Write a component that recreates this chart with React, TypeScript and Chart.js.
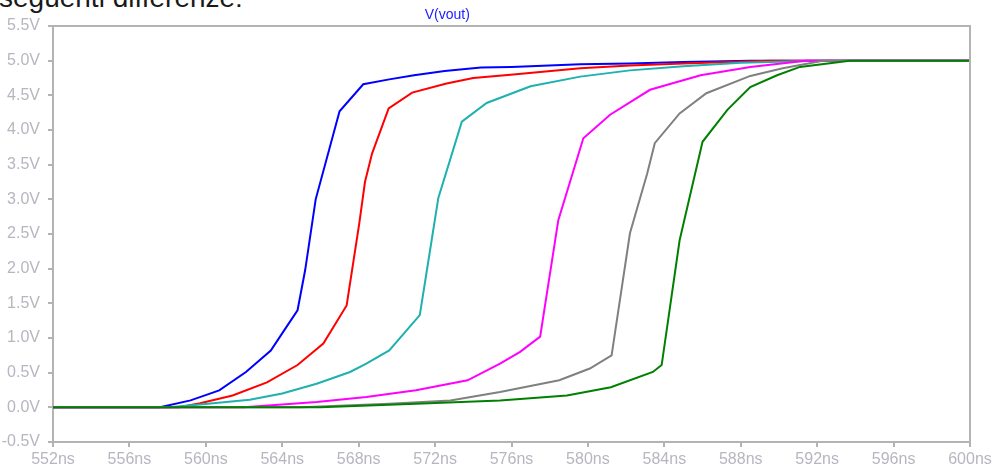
import React, { useEffect, useRef } from "react";
import { Chart, registerables } from "chart.js";

Chart.register(...registerables);

// Transient of V(vout) for six runs (time in ns, voltage in V)
const run1Time = [552, 557.6, 559.2, 560.7, 562.1, 563.4, 564.1, 564.8, 565.2, 565.75, 567.0, 568.24, 569.6, 570.9, 572.5, 574.4, 576.0, 579.6, 582.2, 585.0, 588.5, 600];
const run1Volt = [0, 0, 0.1, 0.245, 0.51, 0.82, 1.11, 1.4, 1.98, 3.0, 4.27, 4.66, 4.73, 4.79, 4.85, 4.9, 4.91, 4.95, 4.96, 4.98, 5.0, 5.0];

const run2Time = [552, 558.6, 559.7, 561.4, 563.2, 564.8, 566.15, 567.37, 568.03, 568.33, 568.7, 569.57, 570.8, 572.6, 574.0, 576.1, 579.6, 582.2, 585.0, 589.5, 600];
const run2Volt = [0, 0, 0.06, 0.17, 0.36, 0.61, 0.92, 1.47, 2.65, 3.25, 3.66, 4.31, 4.54, 4.67, 4.75, 4.8, 4.89, 4.93, 4.96, 5.0, 5.0];

const run3Time = [552, 558.1, 559.7, 562.3, 564.0, 565.8, 567.55, 568.4, 569.6, 571.2, 571.82, 572.17, 573.4, 574.7, 577.0, 579.6, 582.2, 585.0, 588.0, 592.0, 600];
const run3Volt = [0, 0, 0.04, 0.11, 0.2, 0.34, 0.51, 0.63, 0.82, 1.33, 2.41, 3.02, 4.12, 4.39, 4.63, 4.77, 4.86, 4.92, 4.97, 5.0, 5.0];

const run4Time = [552, 562.0, 565.8, 568.4, 571.0, 573.7, 575.4, 576.45, 577.5, 578.45, 579.76, 581.16, 583.25, 585.9, 588.5, 591.4, 600];
const run4Volt = [0, 0, 0.077, 0.15, 0.245, 0.39, 0.63, 0.8, 1.02, 2.7, 3.88, 4.22, 4.58, 4.79, 4.91, 5.0, 5.0];

const run5Time = [552, 565.0, 569.6, 572.8, 575.4, 578.5, 580.1, 581.24, 582.2, 583.1, 583.5, 584.8, 586.2, 588.5, 590.2, 592.3, 600];
const run5Volt = [0, 0, 0.05, 0.1, 0.22, 0.39, 0.56, 0.75, 2.51, 3.37, 3.81, 4.24, 4.53, 4.78, 4.89, 5.0, 5.0];

const run6Time = [552, 566.0, 571.0, 575.4, 578.9, 581.2, 583.4, 583.86, 584.8, 586.0, 587.3, 588.5, 589.9, 591.1, 593.7, 600];
const run6Volt = [0, 0, 0.05, 0.1, 0.17, 0.29, 0.51, 0.61, 2.41, 3.83, 4.29, 4.62, 4.79, 4.91, 5.0, 5.0];

const traceColors = ["#0000ff", "#ff0000", "#1fb0b0", "#ff00ff", "#808080", "#008000"];

const traceTitle = "V(vout)";
const captionText = "seguenti differenze:";

const axisColor = "#b3b3b3";
const tickTextColor = "#b6b6c0";

const toPoints = (t: number[], v: number[]) => t.map((x, i) => ({ x, y: v[i] }));

const traces = [
  toPoints(run1Time, run1Volt),
  toPoints(run2Time, run2Volt),
  toPoints(run3Time, run3Volt),
  toPoints(run4Time, run4Volt),
  toPoints(run5Time, run5Volt),
  toPoints(run6Time, run6Volt),
];

// Closes the plot frame and writes the trace name above it
const framePlugin = {
  id: "frameAndTitle",
  afterDraw(chart: any) {
    const { ctx, chartArea } = chart;
    ctx.save();
    ctx.strokeStyle = axisColor;
    ctx.lineWidth = 2;
    ctx.beginPath();
    ctx.moveTo(chartArea.left, chartArea.top);
    ctx.lineTo(chartArea.right, chartArea.top);
    ctx.lineTo(chartArea.right, chartArea.bottom);
    ctx.stroke();

    ctx.fillStyle = "#2020ff";
    ctx.font = "14px 'Liberation Sans', Arial, sans-serif";
    ctx.textAlign = "center";
    ctx.textBaseline = "middle";
    const x = chartArea.left + (chartArea.right - chartArea.left) * 0.43;
    ctx.fillText(traceTitle, x, 15);
    ctx.restore();
  },
};

export default function App() {
  const canvasRef = useRef<HTMLCanvasElement | null>(null);

  useEffect(() => {
    const canvas = canvasRef.current;
    if (!canvas) return;
    const tickFont = { family: "'Liberation Sans', Arial, sans-serif", size: 16 };
    const chart = new Chart(canvas, {
      type: "line",
      data: {
        datasets: traces.map((pts, i) => ({
          label: `run ${i + 1}`,
          data: pts,
          borderColor: traceColors[i],
          backgroundColor: traceColors[i],
          borderWidth: 2,
          pointRadius: 0,
          tension: 0,
          fill: false,
          order: traces.length - i,
        })),
      },
      options: {
        animation: false,
        responsive: false,
        devicePixelRatio: 1,
        layout: { padding: { top: 26, right: 27, left: 0, bottom: 0 } },
        plugins: {
          legend: { display: false },
          tooltip: { enabled: false },
          title: { display: false },
        },
        scales: {
          x: {
            type: "linear",
            min: 552,
            max: 600,
            afterFit: (s: any) => {
              s.height = 26;
            },
            ticks: {
              stepSize: 4,
              color: tickTextColor,
              font: tickFont,
              padding: 3,
              maxRotation: 0,
              callback: (v: any) => `${v}ns`,
            },
            grid: {
              drawOnChartArea: false,
              drawTicks: true,
              tickLength: 5,
              color: axisColor,
              lineWidth: 2,
            },
            border: { display: true, color: axisColor, width: 2 },
          },
          y: {
            type: "linear",
            min: -0.5,
            max: 5.5,
            afterFit: (s: any) => {
              s.width = 53;
            },
            ticks: {
              stepSize: 0.5,
              color: tickTextColor,
              font: tickFont,
              padding: 8,
              callback: (v: any) => `${Number(v).toFixed(1)}V`,
            },
            grid: {
              drawOnChartArea: false,
              drawTicks: true,
              tickLength: 5,
              color: axisColor,
              lineWidth: 2,
            },
            border: { display: true, color: axisColor, width: 2 },
          },
        },
      },
      plugins: [framePlugin],
    });
    return () => chart.destroy();
  }, []);

  return (
    <div
      style={{
        position: "fixed",
        left: 0,
        top: 0,
        width: 997,
        height: 468,
        background: "#ffffff",
        overflow: "hidden",
      }}
    >
      <div
        style={{
          position: "absolute",
          left: -1,
          top: -16,
          font: "28px 'Liberation Sans', Arial, sans-serif",
          lineHeight: "28px",
          color: "#1a1a1a",
          whiteSpace: "nowrap",
        }}
      >
        {captionText}
      </div>
      <canvas
        ref={canvasRef}
        width={997}
        height={468}
        style={{ position: "absolute", left: 0, top: 0, width: 997, height: 468 }}
      />
    </div>
  );
}
